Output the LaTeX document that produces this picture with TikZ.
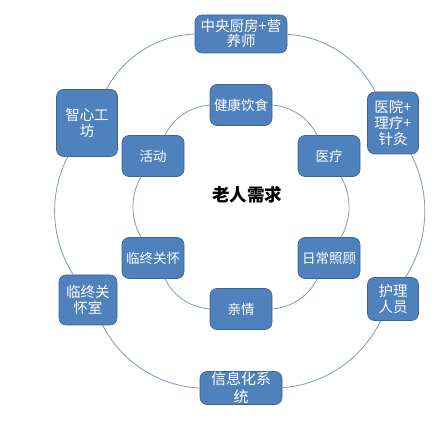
\documentclass[tikz,border=0pt]{standalone}
\usepackage{fontspec}
\newfontfamily\cjk{Noto Sans CJK SC}
\definecolor{boxfill}{HTML}{4F81BD}
\definecolor{boxline}{HTML}{3B6496}
\definecolor{ringline}{HTML}{7F98C2}
\begin{document}
\begin{tikzpicture}[x=1pt,y=1pt,
  box/.style={draw=boxline,line width=0.6pt,fill=boxfill,rounded corners=7pt,
    text=white,align=center,inner sep=0pt,font=\cjk\fontsize{13.5}{16}\selectfont},
  inbox/.style={box,minimum width=62pt,minimum height=41pt},
  outbox/.style={box,font=\cjk\fontsize{14.5}{17}\selectfont},
  ring/.style={draw=ringline,line width=0.8pt,bend left=30,looseness=0.91}]
\useasboundingbox (0,0) rectangle (448,440);
% outer nodes
\node[outbox,minimum width=92pt,minimum height=38pt] (o1) at (241,406) {中央厨房+营\\[-2pt]养师};
\node[outbox,minimum width=51pt,minimum height=62pt] (o2) at (393,317) {医院+\\[-1pt]理疗+\\[-1pt]针灸};
\node[outbox,minimum width=51pt,minimum height=43pt] (o3) at (393,141) {护理\\[-1pt]人员};
\node[outbox,minimum width=82pt,minimum height=33pt,font=\cjk\fontsize{15}{15}\selectfont] (o4) at (241,52) {\raisebox{3pt}{信息化系}\\统};
\node[outbox,minimum width=58pt,minimum height=50pt] (o5) at (88,140) {临终关\\[-1pt]怀室};
\node[outbox,minimum width=61pt,minimum height=67pt] (o6) at (87,317) {智心工\\[-1pt]坊};
% inner nodes
\node[inbox] (i1) at (241,335) {健康饮食};
\node[inbox] (i2) at (329,284) {医疗};
\node[inbox] (i3) at (329,182) {日常照顾};
\node[inbox] (i4) at (241,131) {亲情};
\node[inbox] (i5) at (153,182) {临终关怀};
\node[inbox] (i6) at (153,284) {活动};
% center
\node[font=\cjk\bfseries\fontsize{17.5}{20}\selectfont] (c) at (247,245) {老人需求};
% rings
\draw[ring] (o1) to (o2);
\draw[ring] (o2) to (o3);
\draw[ring] (o3) to (o4);
\draw[ring] (o4) to (o5);
\draw[ring] (o5) to (o6);
\draw[ring] (o6) to (o1);
\draw[ring] (i1) to (i2);
\draw[ring] (i2) to (i3);
\draw[ring] (i3) to (i4);
\draw[ring] (i4) to (i5);
\draw[ring] (i5) to (i6);
\draw[ring] (i6) to (i1);
\end{tikzpicture}
\end{document}
